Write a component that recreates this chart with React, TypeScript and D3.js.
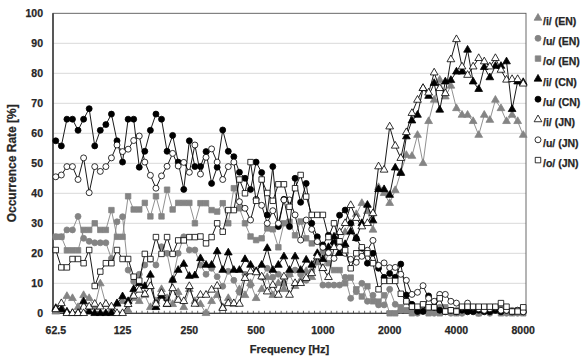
import React, { useEffect, useRef } from 'react'
import * as d3 from 'd3'

// x axis: 1/12-octave bands, labelled every octave
const tickLabels = ['62.5', '125', '250', '500', '1000', '2000', '4000', '8000']
const tickIndex = [0, 12, 24, 36, 48, 60, 72, 84]
const yTicks = [0, 10, 20, 30, 40, 50, 60, 70, 80, 90, 100]

// occurrence rate [%] per band
const iEN = [0.5, 1, 5.7, 5, 2, 6, 5, 2, 9.9, 3, 1, 3, 4, 1, 5, 4, 6, 2, 4, 8, 5, 3, 7, 2, 8, 4, 3, 0, 4, 6, 2, 5, 3, 8, 6, 10, 5, 8, 12, 6, 10, 8, 13, 9, 11, 14, 12, 17, 15, 20, 24, 22, 27, 30, 33, 36.7, 34, 27.8, 42, 40, 36.7, 41, 47, 52.7, 52.4, 59.4, 50, 64, 71.1, 77.8, 72.2, 75.8, 68.3, 66.1, 66.1, 64, 59.4, 66.1, 64.4, 71.1, 68.3, 64, 66.1, 64, 59.4]
const uEN = [25.5, 25.5, 27.8, 27.8, 32.3, 25, 24, 23.5, 23.5, 23.5, 18.3, 30.5, 32.2, 14.4, 10.6, 13, 16.1, 18, 16.1, 22.2, 20, 11.1, 20, 25.5, 21.1, 21.1, 16.1, 13, 15, 12.2, 9, 14, 11, 7, 13, 9.4, 14, 12, 15, 12, 13, 10, 13, 14.4, 13, 11, 14, 17.2, 9.4, 9.4, 9.4, 9.4, 12, 5, 7.2, 10, 4, 6, 2.8, 2.8, 8, 3, 1, 4, 1, 0, 2, 1, 0, 2, 1, 0, 1, 0, 2, 1, 0, 1, 0, 1, 2, 0, 1, 0, 1]
const oEN = [25.5, 25.5, 21, 21, 21, 27.8, 27.8, 30, 27.8, 27.8, 34.4, 25.5, 25.5, 39, 34.6, 34.6, 36.8, 32.3, 39, 32.3, 41.2, 34.6, 36.8, 36.8, 36.8, 30, 36.7, 36.7, 34.4, 33.9, 36.7, 30, 41.7, 35, 30, 25.6, 24.4, 25, 28.3, 28, 22, 30, 30.5, 26, 30.6, 25, 23.3, 24, 20.6, 16.7, 14.4, 14.4, 10, 11.9, 8, 5.6, 9, 4, 3.9, 6, 0, 0, 2, 1, 0, 2, 1, 0, 1, 0, 2, 1, 0, 1, 2, 1, 0, 1, 2, 1, 0, 1, 0, 1, 0]
const iCN = [1.7, 1.3, 0.5, 0, 0, 3.9, 0.5, 0, 0, 0, 0, 3.3, 5.6, 4, 8, 10, 9, 12.8, 2, 5.8, 3, 11.1, 14.4, 16.4, 12.4, 12.6, 18.3, 16.1, 16.1, 20.6, 14.4, 20.2, 14.4, 14.4, 18, 16.1, 14, 16.1, 21.7, 14.4, 16.1, 18.9, 14.4, 18.9, 14.4, 17.8, 16.1, 20, 18, 22, 25.5, 20, 23, 27.2, 25, 30, 36.1, 30.9, 41.3, 41.3, 39.4, 48.5, 46.7, 58.9, 64.2, 66.1, 75, 72.4, 76.7, 67.8, 77.2, 77.7, 80.5, 80.5, 87.8, 77.2, 74.7, 82, 78.6, 82.4, 82.4, 83.9, 68, 77.2, 77]
const uCN = [57.5, 55.8, 64.7, 64.7, 61, 64.7, 68.2, 55.8, 61, 62.9, 66.4, 57.5, 50.4, 64.7, 64.7, 48.7, 54, 61, 66.4, 64.7, 54, 59.3, 50.4, 41.3, 57.5, 48.9, 48.9, 53.9, 43.3, 48.7, 61.1, 54, 52.2, 47, 45, 41.3, 50.4, 46.9, 32.8, 48.9, 28.9, 38, 28.9, 45, 37, 43.3, 30, 25.5, 22.8, 26, 23.4, 32.7, 34.4, 30, 25, 21.7, 16.7, 20, 15, 12, 13.3, 12, 16.4, 6.1, 3, 0.6, 0.6, 5.8, 2, 1, 0.5, 1, 0.5, 1, 0.5, 0.5, 1, 0.5, 0.5, 1, 0.5, 1, 0.5, 1, 0.5]
const iJN = [1.3, 3.3, 0, 0, 0, 0, 2.2, 3.1, 2.2, 3.1, 2.2, 0, 0, 3, 5.8, 7.8, 6.4, 9, 3.1, 6.7, 3.1, 8.3, 4.4, 4, 9, 3.1, 6.1, 6.1, 7.8, 9.1, 1.7, 3.3, 3.3, 3.1, 11.7, 13.9, 13.6, 12.2, 7.2, 9.4, 6.1, 12.2, 6.1, 10, 10, 11.7, 13.3, 18.9, 15, 12, 22, 27, 30, 36, 31.7, 28.9, 30, 33.3, 48.9, 47.8, 62.2, 55.8, 51.7, 60.3, 66.7, 71.1, 75, 73.5, 80.2, 75, 73.3, 84.6, 91.3, 82.2, 79.4, 82.2, 85, 83.9, 82.2, 85, 81.1, 77.8, 78, 78, 76.5]
const uJN = [45.5, 46.1, 48.9, 48.9, 44.6, 51.8, 40.2, 48.9, 47.3, 48.9, 51.8, 56.1, 53.9, 54.7, 57.6, 59.1, 50.4, 46, 41.7, 45.8, 49, 53.3, 49.1, 50.3, 47, 56.1, 46.4, 52, 54.8, 50.4, 44.6, 48.9, 50.4, 37.2, 35, 31.1, 38, 36, 30, 34.2, 30, 37.8, 37.8, 32.8, 24.4, 31.1, 28, 23.9, 22, 20.2, 18.3, 22, 20, 18, 17, 19, 21, 24.3, 16, 16.8, 15.2, 15.3, 13, 11, 6.3, 7, 9.2, 5, 4, 6.3, 6.3, 4, 3.4, 2, 3.4, 2, 1.5, 1, 1.5, 2, 1, 1, 0.5, 1, 0.5]
const oJN = [21.1, 15.3, 15.3, 18.1, 18.1, 16.7, 21.1, 9.1, 13.9, 16.7, 16.7, 21.1, 18.1, 18.1, 12.2, 10.9, 19.8, 18.1, 25.4, 19.8, 25.4, 19.8, 24.3, 24.3, 25.4, 25.4, 25.6, 23.3, 25.4, 30, 27.2, 34.4, 34.4, 44.6, 40, 50.4, 37.5, 44.6, 40.1, 37.5, 43, 43, 35.5, 41.7, 46.1, 38.9, 32.8, 32.8, 32.8, 25.4, 30, 24, 21, 15, 20, 22, 20, 16.7, 8, 10.8, 10.8, 10.8, 6.5, 4, 2.2, 2.2, 3, 2, 2, 5, 0.6, 1, 0.6, 2.2, 2.2, 2.2, 2.2, 2.2, 2.2, 2.2, 3.4, 2.2, 0.6, 0.6, 2]

const GREY = '#848484'
const TEXT = '#262626'
const FONT = '"Liberation Sans", Arial, sans-serif'

const series = [
  { name: '/i/ (EN)', values: iEN, shape: d3.symbolTriangle, size: 26, fill: GREY, stroke: GREY },
  { name: '/u/ (EN)', values: uEN, shape: d3.symbolCircle, size: 28, fill: GREY, stroke: GREY },
  { name: '/o/ (EN)', values: oEN, shape: d3.symbolSquare, size: 30, fill: GREY, stroke: GREY },
  { name: '/i/ (CN)', values: iCN, shape: d3.symbolTriangle, size: 26, fill: '#000', stroke: '#000' },
  { name: '/u/ (CN)', values: uCN, shape: d3.symbolCircle, size: 28, fill: '#000', stroke: '#000' },
  { name: '/i/ (JN)', values: iJN, shape: d3.symbolTriangle, size: 26, fill: '#fff', stroke: '#000' },
  { name: '/u/ (JN)', values: uJN, shape: d3.symbolCircle, size: 28, fill: '#fff', stroke: '#000' },
  { name: '/o/ (JN)', values: oJN, shape: d3.symbolSquare, size: 30, fill: '#fff', stroke: '#000' },
]

const W = 585
const H = 356
const margin = { top: 13.3, right: 59, bottom: 42.7, left: 53 }

// bold-ish label text
const label = (sel, size) =>
  sel
    .attr('font-family', FONT)
    .attr('font-weight', 'bold')
    .attr('font-size', size)
    .attr('fill', TEXT)
    .attr('stroke', TEXT)
    .attr('stroke-width', 0.25)

const App = () => {
  const ref = useRef(null)

  useEffect(() => {
    const svg = d3.select(ref.current)
    svg.selectAll('*').remove()

    const n = iEN.length
    const x = d3
      .scaleBand()
      .domain(d3.range(n).map(String))
      .range([margin.left, W - margin.right])
    const cx = (i) => x(String(i)) + x.bandwidth() / 2
    const y = d3.scaleLinear().domain([0, 100]).range([H - margin.bottom, margin.top])

    // grid
    svg
      .append('g')
      .selectAll('line')
      .data(yTicks.slice(1, -1))
      .enter()
      .append('line')
      .attr('x1', margin.left)
      .attr('x2', W - margin.right)
      .attr('y1', (d) => y(d))
      .attr('y2', (d) => y(d))
      .attr('stroke', '#d9d9d9')
      .attr('stroke-width', 1)

    // frame
    svg
      .append('rect')
      .attr('x', margin.left)
      .attr('y', y(100))
      .attr('width', W - margin.right - margin.left)
      .attr('height', y(0) - y(100))
      .attr('fill', 'none')
      .attr('stroke', '#595959')
      .attr('stroke-width', 0.9)

    // left axis
    svg
      .append('line')
      .attr('x1', margin.left)
      .attr('x2', margin.left)
      .attr('y1', y(100))
      .attr('y2', y(0))
      .attr('stroke', '#404040')
      .attr('stroke-width', 1.6)

    // bottom axis + ticks between categories
    svg
      .append('line')
      .attr('x1', margin.left)
      .attr('x2', W - margin.right)
      .attr('y1', y(0))
      .attr('y2', y(0))
      .attr('stroke', '#404040')
      .attr('stroke-width', 1.2)
    svg
      .append('g')
      .selectAll('line')
      .data(d3.range(n + 1))
      .enter()
      .append('line')
      .attr('x1', (i) => margin.left + i * x.step())
      .attr('x2', (i) => margin.left + i * x.step())
      .attr('y1', y(0))
      .attr('y2', y(0) - 2.5)
      .attr('stroke', '#404040')
      .attr('stroke-width', 0.8)

    // y labels
    svg
      .append('g')
      .selectAll('text')
      .data(yTicks)
      .enter()
      .append('text')
      .attr('x', margin.left - 10)
      .attr('y', (d) => y(d))
      .attr('dy', '0.36em')
      .attr('text-anchor', 'end')
      .call(label, 10.5)
      .text((d) => d)

    // x labels
    svg
      .append('g')
      .selectAll('text')
      .data(tickIndex)
      .enter()
      .append('text')
      .attr('x', (d) => cx(d))
      .attr('y', y(0) + 21)
      .attr('text-anchor', 'middle')
      .call(label, 10.5)
      .text((d, i) => tickLabels[i])

    // axis titles
    svg
      .append('text')
      .attr('x', (margin.left + W - margin.right) / 2)
      .attr('y', 353)
      .attr('text-anchor', 'middle')
      .call(label, 11)
      .text('Frequency [Hz]')
    svg
      .append('text')
      .attr('transform', `translate(16, ${(y(0) + y(100)) / 2}) rotate(-90)`)
      .attr('text-anchor', 'middle')
      .call(label, 12)
      .text('Occurrence Rate [%]')

    const line = d3
      .line()
      .x((d, i) => cx(i))
      .y((d) => y(d))

    series.forEach((s) => {
      const g = svg.append('g')
      g.append('path')
        .attr('d', line(s.values))
        .attr('fill', 'none')
        .attr('stroke', s.fill === GREY ? GREY : '#000')
        .attr('stroke-width', 0.9)
      g.selectAll('path.m')
        .data(s.values)
        .enter()
        .append('path')
        .attr('class', 'm')
        .attr('transform', (d, i) => `translate(${cx(i)},${y(d)})`)
        .attr('d', d3.symbol().type(s.shape).size(s.size))
        .attr('fill', s.fill)
        .attr('stroke', s.stroke)
        .attr('stroke-width', 0.8)
    })

    // legend
    const legend = svg
      .selectAll('.legend')
      .data(series)
      .enter()
      .append('g')
      .attr('class', 'legend')
      .attr('transform', (d, i) => `translate(538, ${21 + i * 20.3})`)
    legend
      .append('path')
      .attr('transform', 'translate(0,-3)')
      .attr('d', (d) => d3.symbol().type(d.shape).size(d.size)())
      .attr('fill', (d) => d.fill)
      .attr('stroke', (d) => d.stroke)
      .attr('stroke-width', 0.8)
    legend
      .append('text')
      .attr('x', 5)
      .attr('y', 0)
      .attr('dy', '0.36em')
      .call(label, 10.5)
      .text((d) => d.name)
  }, [])

  return (
    <svg
      ref={ref}
      width={W}
      height={H}
      style={{ position: 'absolute', left: 0, top: 0, background: '#fff' }}
    />
  )
}

export default App
